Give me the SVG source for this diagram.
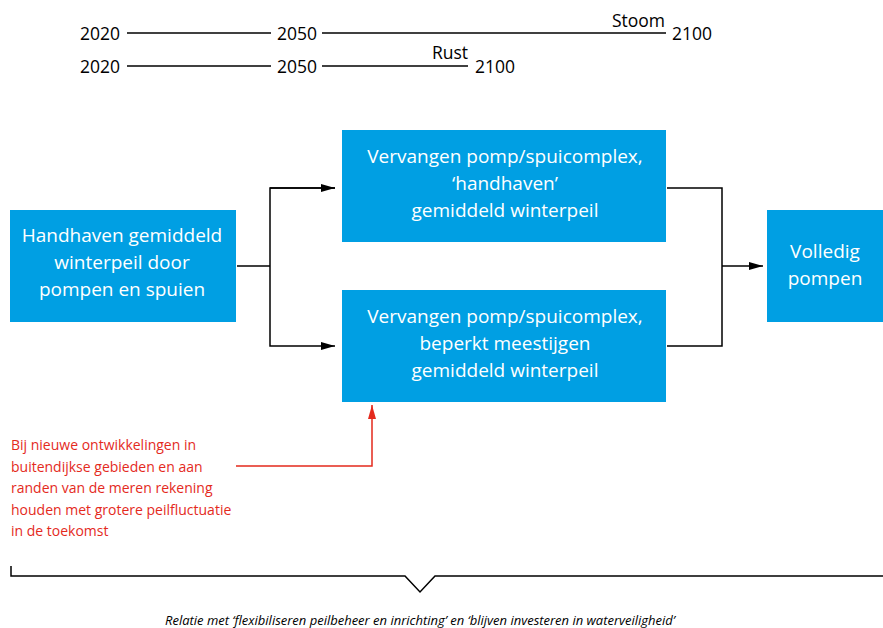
<svg xmlns="http://www.w3.org/2000/svg" width="883" height="628" viewBox="0 0 883 628">
<style>
.box{fill:#009fe3}
.bt{font-family:"Open Sans","Noto Sans",sans-serif;font-size:19px;fill:#fff;text-anchor:middle}
.tl{font-family:"Open Sans","Noto Sans",sans-serif;font-size:17.5px;fill:#000}
.ln{stroke:#000;stroke-width:1.5;fill:none}
.red{stroke:#e42a1d;stroke-width:1.5;fill:none}
.rt{font-family:"Open Sans","Noto Sans",sans-serif;font-size:14px;fill:#e42a1d}
.it{font-family:"Open Sans","Noto Sans",sans-serif;font-size:13.5px;font-style:italic;fill:#000;text-anchor:middle}
</style>
<defs>
<marker id="ah" markerWidth="14" markerHeight="10" refX="14" refY="5" orient="auto" markerUnits="userSpaceOnUse"><path d="M0,1 L14,5 L0,9 Z" fill="#000"/></marker>
<marker id="ahr" markerWidth="14" markerHeight="10" refX="14" refY="5" orient="auto" markerUnits="userSpaceOnUse"><path d="M0,1 L14,5 L0,9 Z" fill="#e42a1d"/></marker>
</defs>
<g id="timeline">
<text class="tl" x="80" y="40">2020</text>
<line class="ln" x1="127" y1="33" x2="271" y2="33"/>
<text class="tl" x="277" y="40">2050</text>
<line class="ln" x1="322" y1="33" x2="666" y2="33"/>
<text class="tl" x="672" y="40">2100</text>
<text class="tl" x="665" y="27" text-anchor="end">Stoom</text>
<text class="tl" x="80" y="73">2020</text>
<line class="ln" x1="127" y1="66" x2="271" y2="66"/>
<text class="tl" x="277" y="73">2050</text>
<line class="ln" x1="322" y1="66" x2="468" y2="66"/>
<text class="tl" x="475" y="73">2100</text>
<text class="tl" x="468" y="59" text-anchor="end">Rust</text>
</g>
<g id="connectors">
<polyline class="ln" points="237,266 270,266"/>
<polyline class="ln" points="335,188 270,188 270,346 335,346" marker-end="url(#ah)"/>
<polyline class="ln" points="270,188 335,188" marker-end="url(#ah)"/>
<polyline class="ln" points="667,188 722,188 722,346 667,346"/>
<polyline class="ln" points="722,266 763,266" marker-end="url(#ah)"/>
<polyline class="red" points="236,466 372,466 372,405" marker-end="url(#ahr)"/>
</g>
<g id="nodeA">
<rect class="box" x="10" y="210" width="226" height="112"/>
<text class="bt" x="122" y="242">Handhaven gemiddeld</text>
<text class="bt" x="122" y="269">winterpeil door</text>
<text class="bt" x="122" y="296">pompen en spuien</text>
</g>
<g id="nodeB">
<rect class="box" x="342" y="130" width="324" height="112"/>
<text class="bt" x="505" y="163">Vervangen pomp/spuicomplex,</text>
<text class="bt" x="505" y="190">‘handhaven’</text>
<text class="bt" x="505" y="217">gemiddeld winterpeil</text>
</g>
<g id="nodeC">
<rect class="box" x="342" y="290" width="324" height="112"/>
<text class="bt" x="505" y="323">Vervangen pomp/spuicomplex,</text>
<text class="bt" x="505" y="350">beperkt meestijgen</text>
<text class="bt" x="505" y="377">gemiddeld winterpeil</text>
</g>
<g id="nodeD">
<rect class="box" x="767" y="210" width="116" height="112"/>
<text class="bt" x="825" y="258">Volledig</text>
<text class="bt" x="825" y="285">pompen</text>
</g>
<g id="note">
<text class="rt" x="11" y="450">Bij nieuwe ontwikkelingen in</text>
<text class="rt" x="11" y="471.5">buitendijkse gebieden en aan</text>
<text class="rt" x="11" y="493">randen van de meren rekening</text>
<text class="rt" x="11" y="514.5">houden met grotere peilfluctuatie</text>
<text class="rt" x="11" y="536">in de toekomst</text>
</g>
<g id="brace">
<polyline class="ln" points="11,566 11,576 405,576 420,592 435,576 883,576"/>
<text class="it" x="420" y="625" textLength="510" lengthAdjust="spacingAndGlyphs">Relatie met ‘flexibiliseren peilbeheer en inrichting’ en ‘blijven investeren in waterveiligheid’</text>
</g>
</svg>
